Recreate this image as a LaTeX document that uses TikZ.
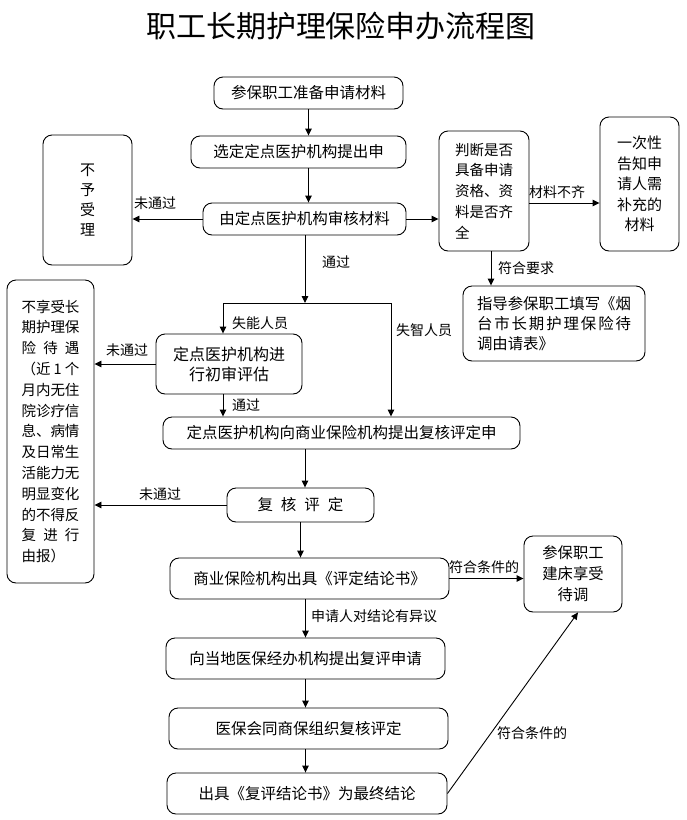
\documentclass[tikz,border=0pt]{standalone}
\usepackage{fontspec}
\setmainfont{Noto Sans CJK SC}
\usetikzlibrary{arrows.meta}

\begin{document}
\begin{tikzpicture}[x=1pt, y=-1pt,
    box/.style={draw, rounded corners=9pt, line width=0.9pt, inner sep=0pt, align=center, font=\fontsize{15.5}{20.5}\selectfont},
    sidebox/.style={box, font=\fontsize{14.5}{20.8}\selectfont},
    lbl/.style={inner sep=0pt, font=\fontsize{14}{16}\selectfont},
    arr/.style={-{Triangle[length=7pt, width=6.5pt]}, line width=0.9pt}
]
\useasboundingbox (0,0) rectangle (687,820);

\node[font=\fontsize{30}{34}\selectfont] (title) at (341,26) {职工长期护理保险申办流程图};

% main column
\node[box, minimum width=189pt, minimum height=32pt] (apply) at (308.5,93) {参保职工准备申请材料};
\node[box, minimum width=215pt, minimum height=32pt] (select) at (298.5,152) {选定定点医护机构提出申};
\node[box, minimum width=203pt, minimum height=32pt] (review) at (304.5,219) {由定点医护机构审核材料};
\node[box, minimum width=146pt, minimum height=60pt, font=\fontsize{16}{20}\selectfont] (initial) at (229,364) {定点医护机构进\\行初审评估};
\node[box, minimum width=357pt, minimum height=32pt] (submit) at (341.5,433) {定点医护机构向商业保险机构提出复核评定申};
\node[box, minimum width=147pt, minimum height=34pt] (recheck) at (300.5,505) {\makebox[86pt]{复\hfill 核\hfill 评\hfill 定}};
\node[box, minimum width=279pt, minimum height=41pt] (conclude) at (309.5,578.5) {商业保险机构出具《评定结论书》};
\node[box, minimum width=279pt, minimum height=41pt] (apply2) at (305.5,658.5) {向当地医保经办机构提出复评申请};
\node[box, minimum width=279pt, minimum height=41pt] (joint) at (308.5,728.5) {医保会同商保组织复核评定};
\node[box, minimum width=280pt, minimum height=41pt] (final) at (307,793.5) {出具《复评结论书》为最终结论};

% side boxes
\node[sidebox, minimum width=89pt, minimum height=130pt, font=\fontsize{15}{20}\selectfont] (reject) at (87.5,200) {不\\予\\受\\理};
\node[sidebox, minimum width=90pt, minimum height=120pt, align=left] (judge) at (484,191) {判断是否\\具备申请\\资格、资\\料是否齐\\全};
\node[sidebox, minimum width=79pt, minimum height=134pt, font=\fontsize{15}{20.5}\selectfont] (notify) at (639.5,184) {一次性\\告知申\\请人需\\补充的\\材料};
\node[box, minimum width=182pt, minimum height=75pt, align=left, font=\fontsize{15.4}{20}\selectfont] (guide) at (554,323.5) {指导参保职工填写《烟\\\makebox[10em]{台\hfill 市\hfill 长\hfill 期\hfill 护\hfill 理\hfill 保\hfill 险\hfill 待}\\调由请表》};
\node[sidebox, minimum width=87pt, minimum height=303pt, align=left] (noenjoy) at (50.5,431.5) {不享受长\\期护理保\\\makebox[4em]{险\hfill 待\hfill 遇}\\\makebox[4em]{（近\hfill 1\hfill 个}\\月内无住\\院诊疗信\\息、病情\\及日常生\\活能力无\\明显变化\\的不得反\\\makebox[4em]{复\hfill 进\hfill 行}\\由报）};
\node[box, minimum width=98pt, minimum height=76pt, font=\fontsize{15.3}{21}\selectfont] (enjoy) at (573,574) {参保职工\\建床享受\\待调};

% branch points
\coordinate (split) at (305,303);
\coordinate (splitL) at (223,303);
\coordinate (splitR) at (391,303);

% labels
\node[lbl] (l1) at (155,203) {未通过};
\node[lbl] (l2) at (557,192) {材料不齐};
\node[lbl] (l3) at (526,268) {符合要求};
\node[lbl] (l4) at (336,262) {通过};
\node[lbl] (l5) at (260,323) {失能人员};
\node[lbl] (l6) at (424,330) {失智人员};
\node[lbl] (l7) at (127,350) {未通过};
\node[lbl] (l8) at (246,405) {通过};
\node[lbl] (l9) at (160,494) {未通过};
\node[lbl] (l10) at (484,567) {符合条件的};
\node[lbl] (l11) at (374,616) {申请人对结论有异议};
\node[lbl] (l12) at (532,733) {符合条件的};

% connectors
\draw[arr] (apply.south) -- (apply.south |- select.north);
\draw[arr] (select.south -| apply.south) -- (apply.south |- review.north);
\draw[arr] (review.east) -- (review.east -| judge.west);
\draw[arr] (review.west) -- (review.west -| reject.east);
\draw[arr] ([yshift=-12pt]judge.east) -- ([yshift=-12pt]judge.east -| notify.west);
\draw[arr] ([xshift=7pt]judge.south) -- ([xshift=7pt]judge.south |- guide.north);
\draw[arr] (review.south -| split) -- (split);
\draw[line width=0.9pt] (splitL) -- (splitR);
\draw[arr] (splitL) -- (splitL |- initial.north);
\draw[arr] (splitR) -- (splitR |- submit.north);
\draw[arr] (initial.west) -- (initial.west -| noenjoy.east);
\draw[arr] (initial.south -| splitL) -- (splitL |- submit.north);
\draw[arr] (submit.south -| split) -- (split |- recheck.north);
\draw[arr] (recheck.west) -- (recheck.west -| noenjoy.east);
\draw[arr] (recheck.south) -- (recheck.south |- conclude.north);
\draw[arr] (conclude.east) -- (conclude.east -| enjoy.west);
\draw[arr] (conclude.south -| apply2.south) -- (apply2.north);
\draw[arr] (apply2.south) -- (apply2.south |- joint.north);
\draw[arr] (joint.south -| apply2.south) -- (apply2.south |- final.north);
\draw[arr] (final.east) -- ([xshift=5pt]enjoy.south);
\end{tikzpicture}
\end{document}
